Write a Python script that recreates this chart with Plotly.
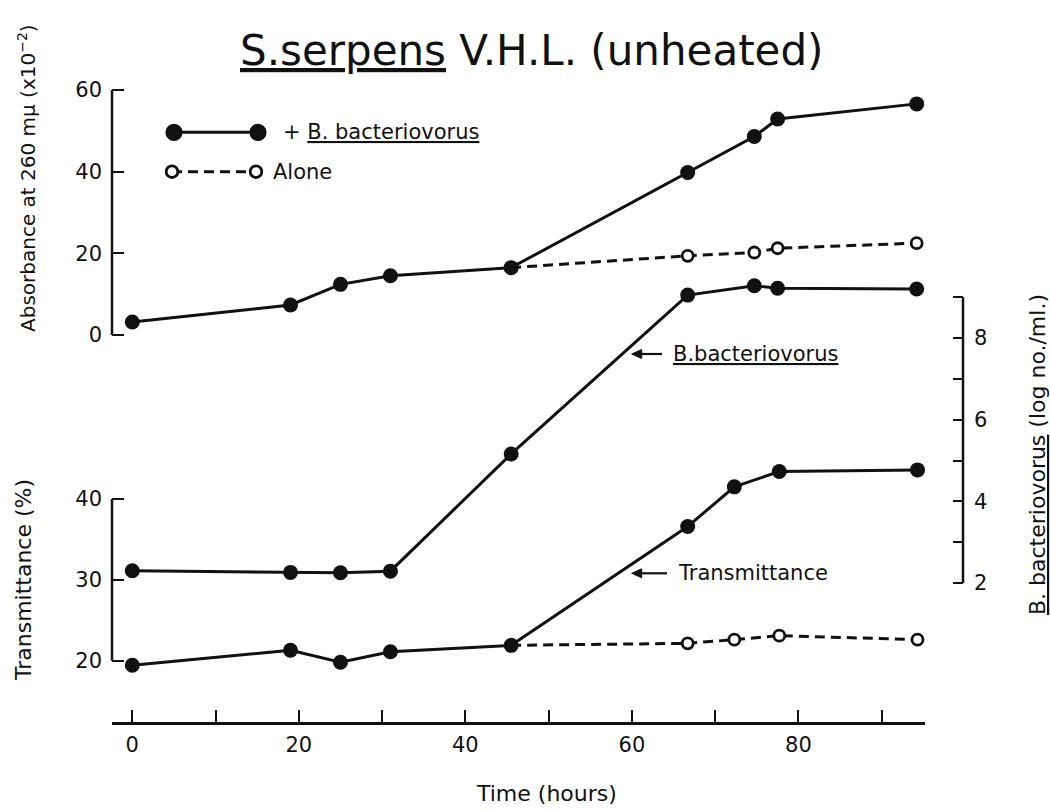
import plotly.graph_objects as go

# ---------------- data ----------------
time_main = [0, 19, 25, 31, 45.5, 66.7, 74.7, 77.5, 94.2]
abs_with_bdello = [3.2, 7.35, 12.4, 14.5, 16.5, 39.8, 48.6, 52.9, 56.6]
time_alone = [45.5, 66.7, 74.7, 77.5, 94.2]
abs_alone = [16.5, 19.4, 20.2, 21.25, 22.5]

bdello_count = [2.30, 2.26, 2.25, 2.29, 5.16, 9.05, 9.28, 9.22, 9.20]

time_trans = [0, 19, 25, 31, 45.5, 66.7, 72.3, 77.7, 94.3]
trans_with_bdello = [19.43, 21.3, 19.8, 21.1, 21.9, 36.6, 41.5, 43.4, 43.6]
time_trans_alone = [45.5, 66.7, 72.3, 77.7, 94.3]
trans_alone = [21.9, 22.15, 22.6, 23.1, 22.6]

x_ticks = [0, 10, 20, 30, 40, 50, 60, 70, 80, 90]
x_ticklabels = ["0", "", "20", "", "40", "", "60", "", "80", ""]
abs_ticks = [0, 20, 40, 60]
trans_ticks = [20, 30, 40]
bdello_ticks = [2, 3, 4, 5, 6, 7, 8, 9]
bdello_ticklabels = ["2", "", "4", "", "6", "", "8", ""]

# ---------------- geometry ----------------
W, H = 1050, 810
PL, PR, PT, PB = 112, 963, 80, 722   # plot area in pixels
FONT = "DejaVu Sans"
INK = "#111111"


def pxx(x):
    return (x - PL) / (PR - PL)


def pxy(y):
    return (PB - y) / (PB - PT)


def lin_range(v0, p0, v1, p1, lo_pix, hi_pix):
    s = (p1 - p0) / (v1 - v0)
    return [v0 + (lo_pix - p0) / s, v0 + (hi_pix - p0) / s]


x_end_pix = 925
x_range = lin_range(0, 132.3, 90, 881.7, PL, x_end_pix)
abs_range = lin_range(0, 335, 60, 90, PB, PT)
trans_range = lin_range(20, 660.7, 40, 499, PB, PT)
bd_range = lin_range(2, 583, 8, 338, PB, PT)

fig = go.Figure()

solid = dict(color=INK, width=3)
dashed = dict(color=INK, width=3, dash="10px,6px")
filled = dict(symbol="circle", size=15, color=INK)
openm = dict(symbol="circle", size=11, color="white", line=dict(color=INK, width=2.8))

fig.add_trace(go.Scatter(x=time_alone, y=abs_alone, mode="lines+markers",
                         line=dashed, marker=openm, yaxis="y", cliponaxis=False))
fig.add_trace(go.Scatter(x=time_main, y=abs_with_bdello, mode="lines+markers",
                         line=solid, marker=filled, yaxis="y", cliponaxis=False))
fig.add_trace(go.Scatter(x=time_trans_alone, y=trans_alone, mode="lines+markers",
                         line=dashed, marker=openm, yaxis="y2", cliponaxis=False))
fig.add_trace(go.Scatter(x=time_trans, y=trans_with_bdello, mode="lines+markers",
                         line=solid, marker=filled, yaxis="y2", cliponaxis=False))
fig.add_trace(go.Scatter(x=time_main, y=bdello_count, mode="lines+markers",
                         line=solid, marker=filled, yaxis="y3", cliponaxis=False))

tickfont = dict(family=FONT, size=21, color=INK)

fig.update_layout(
    width=W, height=H,
    margin=dict(l=PL, r=W - PR, t=PT, b=H - PB, pad=0),
    paper_bgcolor="white", plot_bgcolor="white",
    showlegend=False,
    xaxis=dict(domain=[0, pxx(x_end_pix)], range=x_range, showgrid=False, zeroline=False,
               showline=True, linecolor=INK, linewidth=2.5,
               ticks="inside", ticklen=12, tickwidth=2, tickcolor=INK,
               tickvals=x_ticks, ticktext=x_ticklabels, tickfont=tickfont,
               ticklabelstandoff=2),
    yaxis=dict(domain=[0, 1], range=abs_range, showgrid=False, zeroline=False, showline=False,
               ticks="inside", ticklen=12, tickwidth=2, tickcolor=INK,
               tickvals=abs_ticks, tickfont=tickfont, ticklabelstandoff=9),
    yaxis2=dict(domain=[0, 1], range=trans_range, overlaying="y", side="left", anchor="x",
                showgrid=False, zeroline=False, showline=False,
                ticks="inside", ticklen=12, tickwidth=2, tickcolor=INK,
                tickvals=trans_ticks, tickfont=tickfont, ticklabelstandoff=9),
    yaxis3=dict(domain=[0, 1], range=bd_range, overlaying="y", side="right", anchor="free",
                position=1.0, showgrid=False, zeroline=False, showline=False,
                ticks="inside", ticklen=10, tickwidth=2, tickcolor=INK,
                tickvals=bdello_ticks, ticktext=bdello_ticklabels, tickfont=tickfont,
                ticklabelstandoff=10),
)

shapes = []
# axis spines limited to the tick spans
shapes.append(dict(type="line", xref="paper", yref="y", x0=0, x1=0,
                   y0=abs_ticks[0], y1=abs_ticks[-1], line=dict(color=INK, width=2.5)))
shapes.append(dict(type="line", xref="paper", yref="y2", x0=0, x1=0,
                   y0=trans_ticks[0], y1=trans_ticks[-1], line=dict(color=INK, width=2.5)))
shapes.append(dict(type="line", xref="paper", yref="y3", x0=1, x1=1,
                   y0=bdello_ticks[0], y1=bdello_ticks[-1], line=dict(color=INK, width=2.5)))


# legend key drawn by hand
def circle(cx, cy, r, fill):
    return dict(type="circle", xref="paper", yref="paper",
                x0=pxx(cx - r), x1=pxx(cx + r), y0=pxy(cy + r), y1=pxy(cy - r),
                fillcolor=fill, line=dict(color=INK, width=2.8))


shapes.append(dict(type="line", xref="paper", yref="paper", x0=pxx(174), x1=pxx(258),
                   y0=pxy(132.3), y1=pxy(132.3), line=dict(color=INK, width=3)))
shapes.append(circle(174, 132.3, 7.2, INK))
shapes.append(circle(258, 132.3, 7.2, INK))
shapes.append(dict(type="line", xref="paper", yref="paper", x0=pxx(172), x1=pxx(256),
                   y0=pxy(171.7), y1=pxy(171.7), line=dict(color=INK, width=3, dash="10px,6px")))
shapes.append(circle(172, 171.7, 5.8, "white"))
shapes.append(circle(256, 171.7, 5.8, "white"))


# pointer arrows next to the curve labels
def arrow(tip_x, tip_y, tail_x):
    out = [dict(type="line", xref="paper", yref="paper", x0=pxx(tail_x), x1=pxx(tip_x + 6),
                y0=pxy(tip_y), y1=pxy(tip_y), line=dict(color=INK, width=2.2))]
    path = "M {:.5f},{:.5f} L {:.5f},{:.5f} L {:.5f},{:.5f} Z".format(
        pxx(tip_x), pxy(tip_y), pxx(tip_x + 10), pxy(tip_y - 4.5), pxx(tip_x + 10), pxy(tip_y + 4.5))
    out.append(dict(type="path", xref="paper", yref="paper", path=path,
                    fillcolor=INK, line=dict(color=INK, width=1)))
    return out


shapes += arrow(631.7, 354, 662)
shapes += arrow(631.7, 573.3, 667)
fig.update_layout(shapes=shapes)


def ann(text, x, y, size, xanchor="center", yanchor="middle", angle=0):
    fig.add_annotation(text=text, xref="paper", yref="paper", x=pxx(x), y=pxy(y),
                       xanchor=xanchor, yanchor=yanchor, textangle=angle, showarrow=False,
                       font=dict(family=FONT, size=size, color=INK))


ann("<u>S.serpens</u> V.H.L. (unheated)", 532, 50, 42)
ann("Absorbance at 260 mμ (x10<sup>−2</sup>)", 27, 178, 20, angle=-90)
ann("Transmittance (%)", 23, 580, 22, angle=-90)
ann("<u>B. bacteriovorus</u> (log no./ml.)", 1037, 455, 22, angle=-90)
ann("Time (hours)", 546, 793, 22)
ann("+ <u>B. bacteriovorus</u>", 281, 132.3, 21, xanchor="left")
ann("Alone", 271, 171.7, 21, xanchor="left")
ann("<u>B.bacteriovorus</u>", 671, 354, 21, xanchor="left")
ann("Transmittance", 676, 573.3, 21, xanchor="left")

fig.write_html("out.html")
